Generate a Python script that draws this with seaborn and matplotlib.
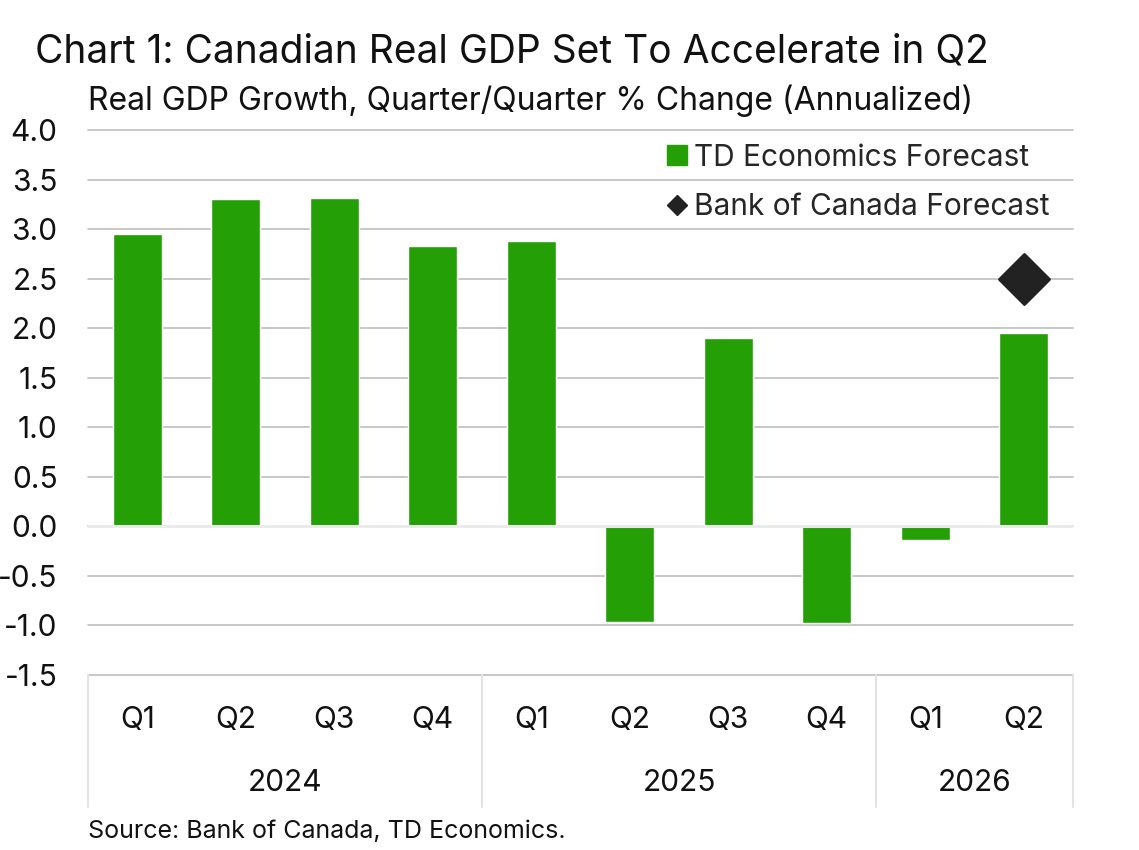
import numpy as np
import pandas as pd
import matplotlib
matplotlib.use("Agg")
import matplotlib.pyplot as plt
from matplotlib.lines import Line2D
import matplotlib.transforms as mtransforms
import seaborn as sns

# Data
years = ["2024", "2024", "2024", "2024", "2025", "2025", "2025", "2025", "2026", "2026"]
quarters = ["Q1", "Q2", "Q3", "Q4", "Q1", "Q2", "Q3", "Q4", "Q1", "Q2"]
td_forecast = [2.95, 3.30, 3.31, 2.83, 2.88, -0.97, 1.90, -0.98, -0.14, 1.95]
boc_period = ("2026", "Q2")
boc_forecast = 2.5

y_ticks = np.arange(-1.5, 4.01, 0.5)

GREEN = "#24A006"
DARK = "#222222"
TEXT = "#111111"

sns.set_style("white")
plt.rcParams["font.family"] = ["Inter", "DejaVu Sans"]

df = pd.DataFrame({"year": years, "quarter": quarters, "growth": td_forecast})
df["pos"] = np.arange(len(df))

fig = plt.figure(figsize=(11.39, 8.5), dpi=100)
ax = fig.add_axes([0.0773, 0.206, 0.8647, 0.641])

sns.barplot(data=df, x="pos", y="growth", color=GREEN, width=0.5,
            saturation=1, ax=ax, zorder=2)

# Bank of Canada point
boc_pos = df.index[(df["year"] == boc_period[0]) & (df["quarter"] == boc_period[1])][0]
sns.scatterplot(x=[boc_pos], y=[boc_forecast], marker="D", s=650, color=DARK,
                edgecolor=DARK, ax=ax, zorder=4, legend=False)

ax.set_xlim(-0.5, len(df) - 0.5)
ax.set_ylim(-1.5, 4.0)
ax.set_yticks(y_ticks)
ax.set_yticklabels([f"{v:.1f}" for v in y_ticks])
for v in y_ticks:
    ax.axhline(v, color="#BFBFBF", lw=1.2, zorder=1, clip_on=False)
ax.axhline(0, color="#EBEBEB", lw=2.2, zorder=3)

ax.tick_params(axis="y", length=0, pad=22, labelsize=21.5, labelcolor=TEXT)
ax.set_xticks(df["pos"])
ax.set_xticklabels([])
ax.tick_params(axis="x", length=0)
ax.set_xlabel("")
ax.set_ylabel("")
for s in ax.spines.values():
    s.set_visible(False)

# Multi-level category axis
trans = mtransforms.blended_transform_factory(ax.transData, ax.transAxes)
for p, q in zip(df["pos"], df["quarter"]):
    ax.text(p, -0.083, q, transform=trans, ha="center", va="center",
            fontsize=21.5, color=TEXT)
bounds = [-0.5]
for i in range(1, len(df)):
    if df["year"][i] != df["year"][i - 1]:
        bounds.append(i - 0.5)
bounds.append(len(df) - 0.5)
for b in bounds:
    ax.plot([b, b], [0, -0.242], transform=trans, color="#E3E3E3", lw=1.5,
            clip_on=False)
for yr, grp in df.groupby("year"):
    ax.text(grp["pos"].mean(), -0.198, yr, transform=trans, ha="center",
            va="center", fontsize=21.5, color=TEXT)

# Legend
handles = [
    Line2D([], [], marker="s", linestyle="none", markersize=14, color=GREEN,
           label="TD Economics Forecast"),
    Line2D([], [], marker="D", linestyle="none", markersize=10, color=DARK,
           label="Bank of Canada Forecast"),
]
fig.legend(handles=handles, loc="upper right", bbox_to_anchor=(1050 / 1139, 0.831),
           frameon=False, fontsize=21.5, handletextpad=0.15, handlelength=0.9,
           labelspacing=0.72, borderaxespad=0, borderpad=0)

fig.text(0.031, 0.927, "Chart 1: Canadian Real GDP Set To Accelerate in Q2",
         fontsize=28, color=TEXT, va="baseline")
fig.text(0.0773, 0.871, "Real GDP Growth, Quarter/Quarter % Change (Annualized)",
         fontsize=23, color=TEXT, va="baseline")
fig.text(0.0773, 0.014, "Source: Bank of Canada, TD Economics.",
         fontsize=18, color=TEXT, va="baseline")

fig.savefig("out.png", dpi=100)
